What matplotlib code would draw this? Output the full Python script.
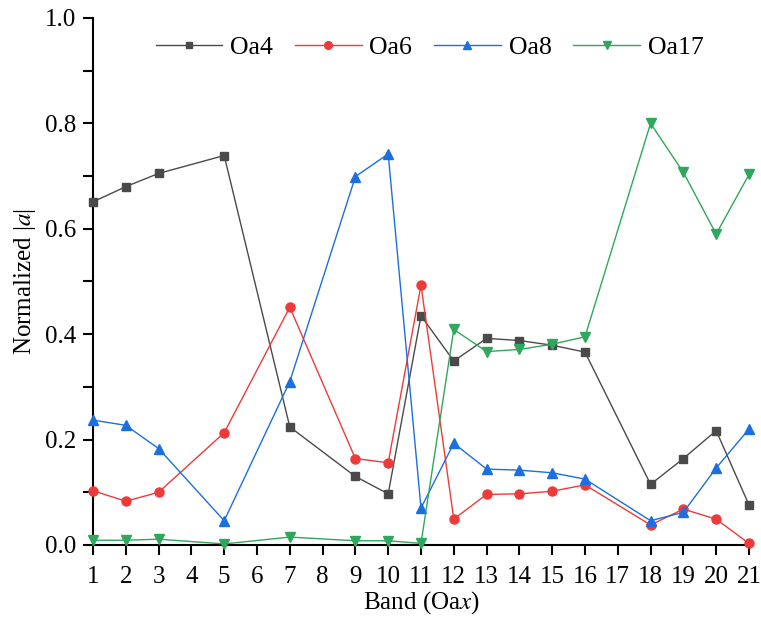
import matplotlib

matplotlib.use("Agg")
import matplotlib.pyplot as plt
from matplotlib.ticker import MultipleLocator, FormatStrFormatter

plt.rcParams["font.family"] = ["Liberation Serif", "DejaVu Serif"]
plt.rcParams["mathtext.fontset"] = "stix"

bands = [1, 2, 3, 5, 7, 9, 10, 11, 12, 13, 14, 15, 16, 18, 19, 20, 21]
oa4 = [0.651, 0.680, 0.705, 0.739, 0.224, 0.130, 0.097, 0.435, 0.349, 0.392,
       0.388, 0.379, 0.366, 0.115, 0.164, 0.217, 0.076]
oa6 = [0.103, 0.083, 0.100, 0.213, 0.451, 0.164, 0.156, 0.493, 0.049, 0.096,
       0.097, 0.102, 0.114, 0.038, 0.068, 0.049, 0.003]
oa8 = [0.237, 0.227, 0.183, 0.046, 0.310, 0.699, 0.742, 0.070, 0.193, 0.144,
       0.142, 0.137, 0.125, 0.046, 0.062, 0.146, 0.220]
oa17 = [0.009, 0.009, 0.011, 0.002, 0.015, 0.008, 0.008, 0.003, 0.409, 0.367,
        0.371, 0.381, 0.395, 0.800, 0.707, 0.590, 0.703]

series = [
    ("Oa4", oa4, "#4a4a4a", "s", 5.5),
    ("Oa6", oa6, "#ef3a3a", "o", 6.5),
    ("Oa8", oa8, "#1c6fe0", "^", 7),
    ("Oa17", oa17, "#2ea85c", "v", 7),
]

fig = plt.figure(figsize=(7.61, 6.2), dpi=100)
ax = fig.add_axes([0.1222, 0.121, 0.862, 0.85])

for name, vals, color, marker, ms in series:
    ax.plot(bands, vals, color=color, lw=1.0, marker=marker, ms=ms,
            mec=color, mfc=color, label=name, clip_on=False, zorder=3)

ax.set_xlim(1, 21)
ax.set_ylim(0, 1.0)
ax.set_xticks(range(1, 22))
ax.yaxis.set_major_locator(MultipleLocator(0.2))
ax.yaxis.set_minor_locator(MultipleLocator(0.1))
ax.yaxis.set_major_formatter(FormatStrFormatter("%.1f"))

for side in ("top", "right"):
    ax.spines[side].set_visible(False)
for side in ("left", "bottom"):
    ax.spines[side].set_linewidth(1.5)

ax.tick_params(which="both", direction="out", length=7, width=1.5, labelsize=18)
ax.tick_params(axis="x", pad=8)
ax.tick_params(axis="y", pad=5)

ax.set_xlabel("Band (Oa$\\mathit{x}$)", fontsize=18, labelpad=1)
ax.set_ylabel("Normalized |$\\mathit{a}$|", fontsize=18, labelpad=5)

ax.legend(loc="upper center", ncol=4, frameon=False, fontsize=18.5,
          handlelength=2.6, columnspacing=0.85, handletextpad=0.3,
          markerscale=0.85, bbox_to_anchor=(0.513, 1.0), borderaxespad=0.3)

fig.savefig("out.png", dpi=100)
